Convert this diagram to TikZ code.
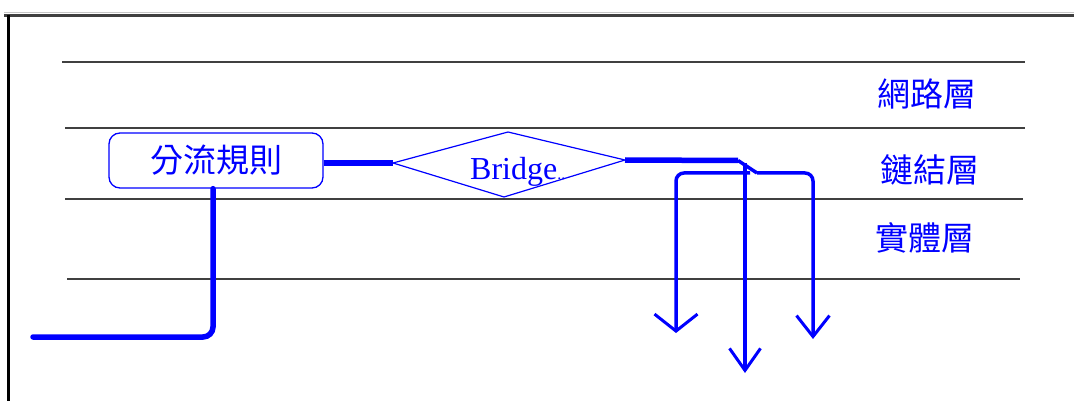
\documentclass[tikz,border=0pt]{standalone}
\usepackage{fontspec}
\setmainfont{Liberation Serif}
\newfontfamily\cjk{Noto Sans CJK TC}
\usetikzlibrary{arrows.meta}
\definecolor{netblue}{RGB}{0,0,255}
\definecolor{rulegray}{RGB}{64,64,64}
\begin{document}
\begin{tikzpicture}[x=1pt,y=-1pt,
  layerline/.style={rulegray, line width=2pt},
  layertext/.style={netblue, font=\cjk\fontsize{33}{33}\selectfont, inner sep=0pt},
  thickwire/.style={netblue, line width=5.5pt},
  wire/.style={netblue, line width=3.5pt},
  tipleft/.style={-{Straight Barb[length=17pt,width=43pt,line width=3pt]}},
  tipmid/.style={-{Straight Barb[length=22pt,width=31pt,line width=3pt]}},
  tipright/.style={-{Straight Barb[length=21pt,width=33pt,line width=3pt]}}]
\useasboundingbox (0,0) rectangle (1074,401);
\fill[white] (0,0) rectangle (1074,401);

% window frame
\draw[gray!45, line width=1.5pt] (4,12.5) -- (1074,12.5);
\draw[rulegray, line width=3pt] (4,15.5) -- (1074,15.5);
\draw[black, line width=2.5pt] (8.5,15) -- (8.5,401);

% layer boundaries
\draw[layerline] (62,62) -- (1025,62);
\draw[layerline] (65,128.5) -- (1025,128.5);
\draw[layerline] (65,198.5) -- (1023,198.5);
\draw[layerline] (67,278.5) -- (1020,278.5);

% layer names
\node[layertext] (net)  at (927,94)  {網路層};
\node[layertext] (link) at (930,170) {鏈結層};
\node[layertext] (phy)  at (925,238) {實體層};

% rule box
\node[draw=netblue, line width=1.3pt, rounded corners=11pt,
      minimum width=214pt, minimum height=55pt, inner sep=0pt,
      text=netblue, font=\cjk\fontsize{33}{33}\selectfont] (rule) at (216,160.5) {分流規則};

% bridge diamond
\coordinate (dl) at (393,163);
\coordinate (dt) at (508,132);
\coordinate (dr) at (625,160);
\coordinate (db) at (504,197);
\draw[netblue, line width=1.2pt] (dl) -- (dt) -- (dr) -- (db) -- cycle;
\node[text=netblue, font=\fontsize{32}{32}\selectfont, anchor=base west, inner sep=0pt]
  (bridge) at (470,179) {Bridge{\fontsize{16}{16}\selectfont..}};

% wires
\coordinate (inlet) at (33,337);
\coordinate (bend) at (738,160.5);
\coordinate (fork) at (757,173);
\coordinate (outL) at (676,333);
\coordinate (outM) at (745,373);
\coordinate (outR) at (813,339);

\draw[thickwire] (rule.east |- dl) -- (dl);
\draw[thickwire, line cap=round, rounded corners=10pt] ([xshift=-3pt]rule.south) |- (inlet);
\draw[thickwire] (dr) -- (bend);
\draw[wire, line join=round] (bend) -- (fork);
\draw[wire, tipright, rounded corners=8pt] (fork) -| (outR);
\draw[wire, tipleft, rounded corners=8pt] (750,173) -| (outL);
\draw[wire, tipmid] (745,163) -- (outM);
\end{tikzpicture}
\end{document}
